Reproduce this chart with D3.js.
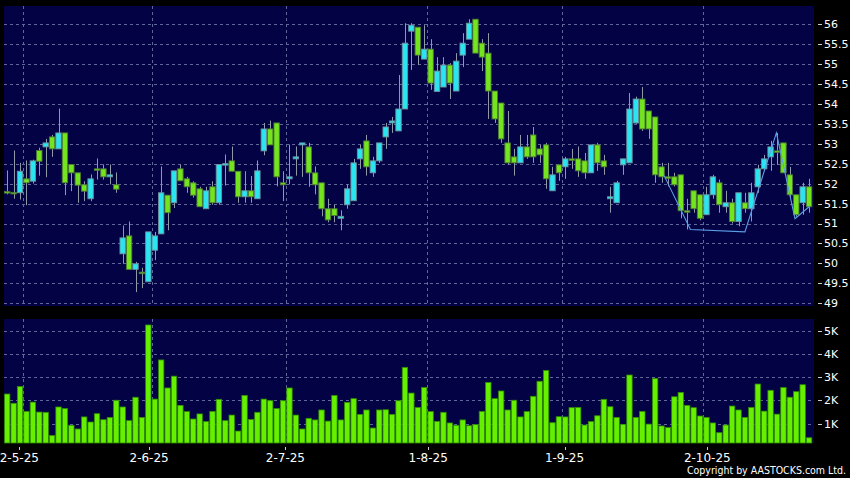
<!DOCTYPE html>
<html><head><meta charset="utf-8">
<script src="https://cdn.jsdelivr.net/npm/d3@7/dist/d3.min.js"></script>
<style>html,body{margin:0;padding:0;background:#000;}svg{display:block;}</style>
</head><body>
<svg id="c" width="850" height="478"></svg>
<script>
// ---- data ----
const openP = [51.80,51.78,51.77,52.12,52.06,52.83,52.92,53.17,52.87,53.27,52.48,52.27,51.97,51.62,52.37,52.37,52.17,51.97,50.24,50.69,49.85,49.78,49.54,50.33,50.74,51.71,51.52,52.37,52.12,52.02,51.87,51.37,51.92,51.52,52.48,52.57,52.31,51.67,51.82,51.62,52.82,53.37,53.52,52.02,52.12,52.62,52.97,52.92,52.27,52.02,51.37,51.37,51.13,51.47,51.57,52.62,53.07,52.27,52.57,53.17,53.52,53.32,53.87,55.82,55.92,55.12,55.37,54.31,54.42,54.97,54.32,55.22,55.62,56.12,55.52,55.27,54.32,54.02,53.02,52.67,52.52,52.92,53.22,52.87,52.97,51.82,52.47,52.42,52.62,52.62,52.57,52.27,52.97,52.57,51.62,51.52,52.47,52.52,53.52,54.12,53.82,53.67,52.42,52.17,52.17,52.22,51.32,51.82,51.72,51.22,51.72,52.02,51.42,51.52,51.05,51.52,51.37,51.92,52.37,52.67,52.82,53.02,52.22,51.72,51.52,51.92];
const highP = [52.33,52.83,52.52,52.58,52.60,52.90,53.12,53.22,53.88,53.27,52.48,52.27,52.06,52.23,52.63,52.48,52.48,52.28,50.95,51.05,50.04,49.89,50.79,50.79,52.43,51.71,52.32,52.48,52.17,52.06,51.92,51.92,52.06,52.48,52.73,52.93,52.31,52.31,52.19,52.58,53.52,53.58,53.52,52.31,52.98,52.93,53.02,53.02,52.43,52.02,51.62,51.47,51.33,51.98,52.62,52.97,53.22,52.67,53.02,53.52,53.67,54.72,56.02,56.02,55.92,55.97,55.62,55.17,55.17,55.02,55.27,55.77,56.12,56.12,55.62,55.77,54.32,54.02,53.82,52.87,53.22,53.22,53.42,52.97,53.02,52.42,52.47,52.67,52.87,52.93,52.77,52.97,53.02,52.72,51.92,52.07,52.62,54.27,54.18,54.42,53.82,53.67,52.52,52.52,52.27,52.22,51.62,51.82,51.72,51.92,52.22,52.10,51.82,51.62,51.77,51.77,52.02,52.47,52.72,53.07,53.27,53.02,52.42,51.72,52.02,52.12];
const lowP = [51.73,51.62,51.60,51.46,52.00,52.20,52.16,52.67,52.87,51.71,51.81,51.52,51.56,51.56,52.10,52.10,51.98,51.77,49.99,49.85,49.28,49.38,49.54,50.08,50.74,50.83,51.39,52.07,51.77,51.65,51.42,51.37,51.47,51.47,51.95,52.31,51.52,51.52,51.52,51.62,52.71,52.97,51.93,51.56,51.98,52.20,52.17,51.92,51.73,51.18,51.03,51.03,50.83,51.37,51.57,52.37,52.20,52.17,52.52,52.87,53.27,53.32,53.87,54.85,54.97,55.12,54.35,54.31,54.42,54.12,54.32,54.92,55.62,55.27,54.82,53.62,53.52,53.02,52.47,52.20,52.52,52.62,52.52,52.52,51.87,51.82,52.07,52.12,52.37,52.17,52.12,52.27,52.32,52.22,51.27,51.52,52.22,52.52,53.50,53.32,53.12,52.02,52.02,51.93,51.93,51.13,50.85,51.27,51.08,51.22,51.62,51.27,51.27,51.00,50.93,51.27,51.05,51.77,52.32,52.32,52.47,52.27,51.62,51.17,51.22,51.27];
const closeP = [51.78,51.78,52.31,52.02,52.57,52.56,53.02,52.87,53.27,52.02,52.27,51.96,51.81,52.12,52.37,52.17,52.22,51.86,50.64,49.85,49.99,49.75,50.79,50.69,51.77,51.27,52.32,52.07,51.92,51.71,51.42,51.82,51.52,52.48,52.50,52.31,51.67,51.82,51.67,52.32,53.37,52.97,52.17,51.97,52.17,52.67,53.02,52.27,51.97,51.37,51.09,51.20,51.18,51.87,52.52,52.87,52.42,52.57,53.02,53.42,53.57,53.87,55.52,55.97,55.22,55.37,54.52,54.82,54.97,54.52,55.07,55.52,56.02,55.27,55.17,54.32,53.62,53.12,52.52,52.52,52.92,52.67,52.67,52.72,52.12,52.22,52.27,52.62,52.62,52.32,52.27,52.97,52.52,52.42,51.67,52.02,52.62,53.87,54.12,53.37,53.37,52.22,52.17,52.17,51.97,51.32,51.32,51.37,51.13,51.72,52.17,51.47,51.52,51.05,51.77,51.37,51.77,52.37,52.62,52.92,52.82,52.27,51.72,51.22,51.92,51.42];
const volumeK = [2.28,1.88,2.60,1.53,1.93,1.50,1.49,0.49,1.72,1.65,0.93,0.77,1.29,1.07,1.43,1.17,1.27,2.01,1.72,1.13,2.14,1.27,5.26,2.06,3.75,2.54,3.05,1.79,1.52,1.20,1.42,1.09,1.53,2.05,1.13,1.37,0.68,2.22,1.18,1.49,2.06,1.99,1.65,1.99,2.54,1.37,0.77,1.23,1.16,1.59,1.11,2.22,1.16,1.92,2.08,1.40,1.59,0.81,1.59,1.60,1.40,1.99,3.43,2.32,1.70,2.56,1.52,1.10,1.49,1.03,0.93,1.16,0.91,0.96,1.53,2.78,2.08,2.41,1.59,2.01,1.29,1.52,2.18,2.83,3.30,1.04,1.30,1.29,1.69,1.70,0.94,1.09,1.34,2.05,1.73,1.27,0.97,3.10,1.27,1.53,0.98,2.95,0.90,0.83,2.16,2.35,1.79,1.69,1.33,1.27,1.03,0.61,0.94,1.76,1.59,1.27,1.70,2.71,1.54,2.44,1.41,2.56,2.14,2.38,2.68,0.39];
const dateLabels = ["2-5-25","2-6-25","2-7-25","1-8-25","1-9-25","2-10-25"];
const dateIdx = [2,22,43,65,86,108];
const priceTicks = [56,55.5,55,54.5,54,53.5,53,52.5,52,51.5,51,50.5,50,49.5,49];
const volTicks = [5,4,3,2,1];
const volTickLabels = ["5K","4K","3K","2K","1K"];
const patternIdx = [102.4,106.5,115.0,119.9,122.8,125.0];
const patternVal = [52.20,50.85,50.79,53.27,51.12,51.42];

// ---- layout ----
const W=850,H=478;
const L=4,R=814, pTop=6,pBot=306, vTop=319,vBot=443;
const N = closeP.length;
const svg = d3.select("#c");
svg.append("rect").attr("width",W).attr("height",H).attr("fill","#000");

const x = d3.scaleLinear().domain([-0.5,N-0.5]).range([L,812.3]);
const xt = d3.scaleLinear().domain([dateIdx[0],dateIdx[5]]).range([19.3,707.3]);
const y = d3.scaleLinear().domain([49,56]).range([303.3,24]);
const yv = d3.scaleLinear().domain([0,5]).range([446.8,331]);
const bw = 5.4;

const panelFill="#020244", gridCol="#5f6898";
svg.append("rect").attr("x",L).attr("y",pTop).attr("width",R-L).attr("height",pBot-pTop).attr("fill",panelFill);
svg.append("rect").attr("x",L).attr("y",vTop).attr("width",R-L).attr("height",vBot-vTop).attr("fill",panelFill);

const g = svg.append("g");
g.selectAll("line.hp").data(priceTicks).join("line")
  .attr("x1",L).attr("x2",R).attr("y1",d=>Math.round(y(d))+0.5).attr("y2",d=>Math.round(y(d))+0.5)
  .attr("stroke",gridCol).attr("stroke-width",1).attr("stroke-dasharray","3,3");
g.selectAll("line.hv").data(volTicks).join("line")
  .attr("x1",L).attr("x2",R).attr("y1",d=>Math.round(yv(d))+0.5).attr("y2",d=>Math.round(yv(d))+0.5)
  .attr("stroke",gridCol).attr("stroke-width",1).attr("stroke-dasharray","3,3");
[[pTop,pBot],[vTop,vBot]].forEach(([a,b])=>{
  g.append("g").selectAll("line").data(dateIdx).join("line")
   .attr("x1",d=>Math.round(x(d+0.5))+0.5).attr("x2",d=>Math.round(x(d+0.5))+0.5)
   .attr("y1",a).attr("y2",b).attr("stroke",gridCol).attr("stroke-dasharray","3,3");
});

// candles
const idx = d3.range(N);
const up = i => closeP[i] > openP[i];
const cg = svg.append("g");
cg.selectAll("line.w").data(idx).join("line")
  .attr("x1",i=>Math.round(x(i))+0.5).attr("x2",i=>Math.round(x(i))+0.5)
  .attr("y1",i=>y(highP[i])).attr("y2",i=>y(lowP[i]))
  .attr("stroke","#8f9aa6").attr("stroke-width",1);
cg.selectAll("rect.b").data(idx).join("rect")
  .attr("x",i=>x(i)-bw/2).attr("width",bw)
  .attr("y",i=>y(Math.max(openP[i],closeP[i])))
  .attr("height",i=>Math.max(1.5,Math.abs(y(openP[i])-y(closeP[i]))))
  .attr("fill",i=>up(i)?"#2ae4f0":"#74e41e")
  .attr("stroke",i=>up(i)?"#6f8f9c":"#4d7a35").attr("stroke-width",0.9);

// pattern line
svg.append("path")
  .datum(patternIdx.map((d,k)=>[d,patternVal[k]]))
  .attr("d",d3.line().x(d=>x(d[0])).y(d=>y(d[1])))
  .attr("fill","none").attr("stroke","#5a9ee6").attr("stroke-width",1.1);

// volume bars
svg.append("g").selectAll("rect").data(idx).join("rect")
  .attr("x",i=>x(i)-bw/2).attr("width",bw)
  .attr("y",i=>yv(volumeK[i])).attr("height",i=>Math.max(0,vBot-yv(volumeK[i])))
  .attr("fill","#66f000").attr("stroke","#2f8c00").attr("stroke-width",0.8);

// right axes
const font="DejaVu Sans";
const ay = svg.append("g").attr("font-family",font).attr("font-size",11).attr("fill","#fff");
ay.selectAll("line.tp").data(priceTicks).join("line")
  .attr("x1",818).attr("x2",822).attr("y1",d=>Math.round(y(d))+0.5).attr("y2",d=>Math.round(y(d))+0.5).attr("stroke","#ccc");
ay.selectAll("text.tp").data(priceTicks).join("text")
  .attr("x",824).attr("y",d=>y(d)).attr("dy","0.36em").text(d=>d);
ay.selectAll("line.tv").data(volTicks).join("line")
  .attr("x1",818).attr("x2",822).attr("y1",d=>Math.round(yv(d))+0.5).attr("y2",d=>Math.round(yv(d))+0.5).attr("stroke","#ccc");
ay.selectAll("text.tv").data(volTicks).join("text")
  .attr("x",824).attr("y",d=>yv(d)).attr("dy","0.36em").text((d,k)=>volTickLabels[k]);

// bottom axis
const ax = svg.append("g").attr("font-family",font).attr("font-size",12).attr("fill","#fff");
ax.selectAll("line").data(dateIdx).join("line")
  .attr("x1",d=>Math.round(xt(d))+0.5).attr("x2",d=>Math.round(xt(d))+0.5)
  .attr("y1",447).attr("y2",450).attr("stroke","#ccc");
ax.selectAll("text").data(dateIdx).join("text")
  .attr("x",d=>xt(d)).attr("y",461.5).attr("text-anchor","middle").text((d,k)=>dateLabels[k]);

svg.append("text").attr("x",687).attr("y",474.3).attr("font-family","DejaVu Sans Condensed, DejaVu Sans")
  .attr("font-size",10).attr("fill","#fff").attr("textLength",159).attr("lengthAdjust","spacingAndGlyphs")
  .text("Copyright by AASTOCKS.com Ltd.");
</script>
</body></html>
